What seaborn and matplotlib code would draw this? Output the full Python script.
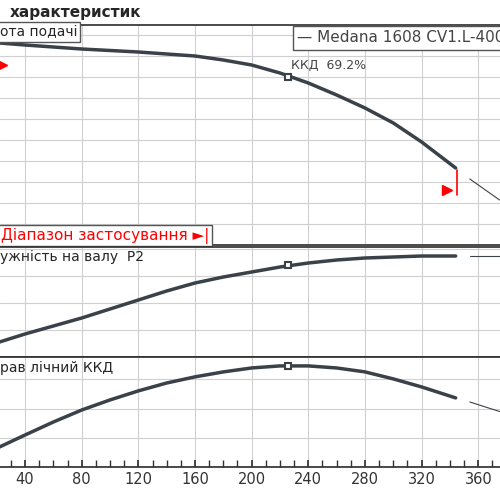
import matplotlib
matplotlib.use("Agg")
import matplotlib.pyplot as plt
import seaborn as sns
from matplotlib.ticker import MultipleLocator

sns.set_theme(style="white")
plt.rcParams['font.family'] = ['DejaVu Sans']

Q = [22, 40, 60, 80, 100, 120, 140, 160, 180, 200, 220, 240, 260, 280, 300, 320, 344]
H = [20.2, 20.0, 19.8, 19.6, 19.45, 19.3, 19.1, 18.9, 18.5, 18.0, 17.2, 16.2, 15.0, 13.7, 12.2, 10.3, 7.7]
P2 = [1.5, 2.3, 3.1, 3.9, 4.8, 5.7, 6.6, 7.4, 8.0, 8.5, 9.0, 9.4, 9.7, 9.9, 10.0, 10.1, 10.1]
ETA = [13.7, 21.9, 30.8, 39.0, 45.9, 52.1, 57.5, 61.7, 65.1, 67.8, 69.2, 69.2, 67.8, 65.1, 60.3, 54.8, 47.3]
Q_ext = [354, 375]
H_ext = [6.6, 4.5]
P2_ext = [10.1, 10.1]
ETA_ext = [44.5, 38.0]
Q_bep = 226
H_bep, P2_bep, ETA_bep = 16.8, 9.2, 69.2
xticks = [40, 80, 120, 160, 200, 240, 280, 320, 360]

dark = "#3a4149"
fig = plt.figure(figsize=(5, 5), dpi=100)
ax1 = fig.add_axes([0, 255/500, 1, 220/500])
ax2 = fig.add_axes([0, 143/500, 1, 110/500])
ax3 = fig.add_axes([0, 33/500, 1, 110/500])
fig.text(0.02, 0.975, "характеристик", fontsize=11, fontweight="bold", va="center")

def style(ax, ylim, ystep):
    ax.set_xlim(22.35, 375.3)
    ax.set_ylim(*ylim)
    ax.xaxis.set_major_locator(MultipleLocator(40))
    ax.yaxis.set_major_locator(MultipleLocator(ystep))
    ax.grid(True, color="#d0d0d0", lw=0.8)
    ax.set_yticklabels([])
    ax.tick_params(left=False)
    for s in ["left", "right"]:
        ax.spines[s].set_visible(False)
    for s in ["top", "bottom"]:
        ax.spines[s].set_color("#333333")
    ax.set_xlabel(""); ax.set_ylabel("")

for ax, y, ye, yb, ylim, step in [(ax1, H, H_ext, H_bep, (0, 22), 2.1),
                                  (ax2, P2, P2_ext, P2_bep, (0, 11), 2.7),
                                  (ax3, ETA, ETA_ext, ETA_bep, (0, 75.3), 20)]:
    sns.lineplot(x=Q, y=y, ax=ax, color=dark, lw=2.5)
    sns.lineplot(x=Q_ext, y=ye, ax=ax, color=dark, lw=0.8)
    ax.plot([Q_bep], [yb], marker="s", ms=5, mfc="white", mec=dark, mew=1.5)
    style(ax, ylim, step)

ax1.set_xticklabels([]); ax2.set_xticklabels([])
ax1.tick_params(bottom=False); ax2.tick_params(bottom=False)
ax3.set_xticks(xticks)
ax3.xaxis.set_minor_locator(MultipleLocator(10))
ax3.tick_params(axis="x", which="both", bottom=True, direction="in", length=5, labelsize=10.5, colors="#333333")

ax1.text(22.5, 21.3, "ота подачі", fontsize=10, va="center",
         bbox=dict(facecolor="white", edgecolor="#555555", pad=2))
ax1.text(228, 17.6, "ККД  69.2%", fontsize=9, color="#444444")
ax1.text(232, 20.7, "— Medana 1608 CV1.L-400", fontsize=11, color="#444444", va="center",
         bbox=dict(facecolor="white", edgecolor="#555555", pad=3))
ax1.plot([24], [18.0], marker=">", color="red", ms=7)
ax1.plot([338], [5.5], marker=">", color="red", ms=7)
ax1.plot([345, 345], [5.0, 7.5], color="red", lw=1.2)
ax1.text(23.0, 0.95, "Діапазон застосування ►|", fontsize=11, color="red", va="center",
         bbox=dict(facecolor="white", edgecolor="#555555", pad=2))
ax2.text(22.5, 10.0, "ужність на валу  P2", fontsize=10, va="center")
ax3.text(22.5, 68.0, "рав лічний ККД", fontsize=10, va="center")

fig.savefig("out.png", dpi=100)
